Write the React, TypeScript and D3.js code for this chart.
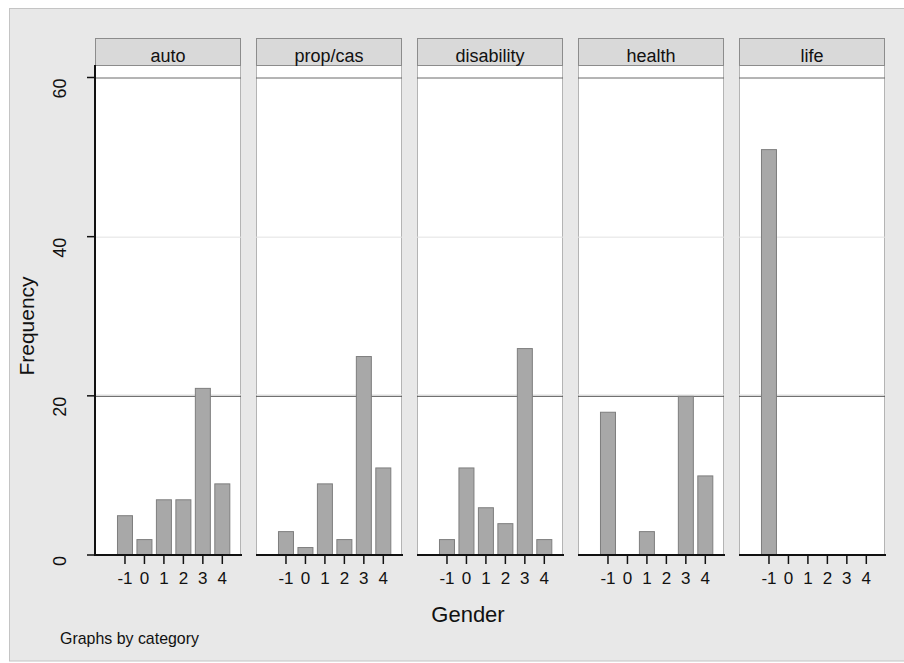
import React from "react";
import * as d3 from "d3";

const categories = ["auto", "prop/cas", "disability", "health", "life"];
const genderTicks = [-1, 0, 1, 2, 3, 4];
const autoValues = [5, 2, 7, 7, 21, 9];
const propcasValues = [3, 1, 9, 2, 25, 11];
const disabilityValues = [2, 11, 6, 4, 26, 2];
const healthValues = [18, 0, 3, 0, 20, 10];
const lifeValues = [51, 0, 0, 0, 0, 0];
const yTicks = [0, 20, 40, 60];

const seriesByCategory = [autoValues, propcasValues, disabilityValues, healthValues, lifeValues];

const W = 904;
const H = 663;
const panelX0 = 95;
const panelStep = 161;
const panelW = 146;
const headerTop = 38;
const headerBottom = 65;
const baseY = 555;

export default function App() {
  const y = d3.scaleLinear().domain([0, 60]).range([baseY, 77.5]);
  const x = d3.scaleLinear().domain([-2.54, 4.96]).range([0, panelW]);
  const barW = 16;

  return (
    <svg
      width={W}
      height={H}
      style={{ position: "absolute", left: 0, top: 0, fontFamily: "'Liberation Sans', Arial, sans-serif" }}
    >
      <rect x={0} y={0} width={W} height={H} fill="#ffffff" />
      <rect x={9.5} y={8.5} width={W} height={652.5} fill="#e8e8e8" stroke="#c4c4c4" strokeWidth={1} />

      {categories.map((cat, i) => {
        const px = panelX0 + i * panelStep;
        const vals = seriesByCategory[i];
        return (
          <g key={cat} transform={`translate(${px},0)`}>
            {/* plot region */}
            <rect x={0} y={headerBottom} width={panelW} height={baseY - headerBottom} fill="#ffffff" />
            <line x1={0.5} x2={0.5} y1={headerBottom} y2={baseY} stroke="#b4b4b4" />
            <line x1={panelW - 0.5} x2={panelW - 0.5} y1={headerBottom} y2={baseY} stroke="#b4b4b4" />
            {/* grid lines */}
            <line x1={0} x2={panelW} y1={y(40) + 0.5} y2={y(40) + 0.5} stroke="#e2e2e2" />
            <line x1={0} x2={panelW} y1={y(20) - 1} y2={y(20) - 1} stroke="#e6e6e6" />
            <line x1={0} x2={panelW} y1={y(20) + 0.5} y2={y(20) + 0.5} stroke="#555555" />
            <line x1={0} x2={panelW} y1={y(60) + 0.5} y2={y(60) + 0.5} stroke="#6a6a6a" />
            {/* header */}
            <rect x={0.5} y={headerTop + 0.5} width={panelW - 1} height={headerBottom - headerTop} fill="#d9d9d9" stroke="#8c8c8c" />
            <text x={panelW / 2} y={62} textAnchor="middle" fontSize={18} fill="#111">
              {cat}
            </text>
            {/* bars */}
            {genderTicks.map((g, j) =>
              vals[j] > 0 ? (
                <rect
                  key={g}
                  x={x(g) - barW / 2 + 0.5}
                  y={y(vals[j]) + 0.5}
                  width={barW - 1}
                  height={baseY - y(vals[j]) - 1}
                  fill="#a8a8a8"
                  stroke="#7e7e7e"
                  strokeWidth={1}
                />
              ) : null
            )}
            {/* baseline */}
            <line x1={0} x2={panelW + 1} y1={baseY} y2={baseY} stroke="#111" strokeWidth={2} />
            {/* ticks */}
            {genderTicks.map((g) => (
              <g key={g}>
                <line x1={x(g)} x2={x(g)} y1={baseY} y2={baseY + 9} stroke="#111" strokeWidth={1.5} />
                <text x={x(g)} y={584} textAnchor="middle" fontSize={17} fill="#111">
                  {g}
                </text>
              </g>
            ))}
          </g>
        );
      })}

      {/* y axis */}
      <line x1={panelX0} x2={panelX0} y1={headerBottom} y2={baseY + 1} stroke="#111" strokeWidth={2} />
      {yTicks.map((t) => (
        <g key={t}>
          <line x1={panelX0 - 8} x2={panelX0} y1={y(t)} y2={y(t)} stroke="#111" strokeWidth={1.5} />
          <text
            transform={`translate(66,${y(t) + 1}) rotate(-90)`}
            textAnchor="end"
            fontSize={18}
            fill="#111"
          >
            {t}
          </text>
        </g>
      ))}

      <text transform={`translate(34,326) rotate(-90)`} textAnchor="middle" fontSize={21} fill="#111">
        Frequency
      </text>
      <text x={468} y={622} textAnchor="middle" fontSize={22} fill="#111">
        Gender
      </text>
      <text x={60} y={644} fontSize={17} fill="#111" textLength={139} lengthAdjust="spacingAndGlyphs">
        Graphs by category
      </text>
    </svg>
  );
}
